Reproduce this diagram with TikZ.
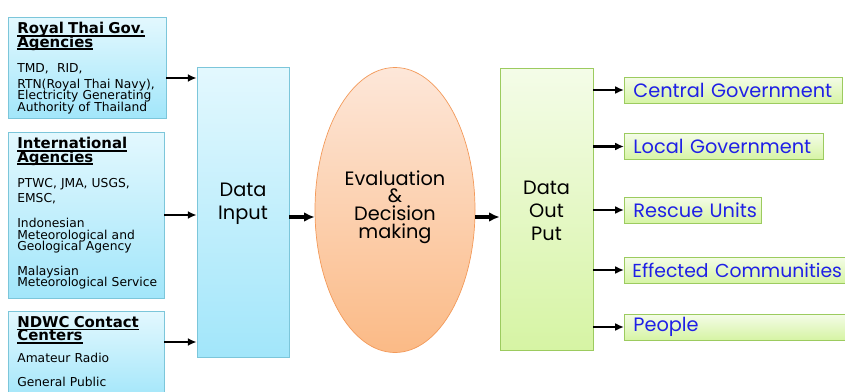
\documentclass[tikz,border=0pt]{standalone}
\usepackage{fontspec}
\usepackage{xcolor}
\setmainfont{DejaVu Sans}
\newfontfamily\gothic{Poppins}
\usetikzlibrary{arrows.meta}
\usetikzlibrary{shapes.geometric,positioning}

\definecolor{cyantop}{HTML}{E3F8FE}
\definecolor{cyanbot}{HTML}{A2E6FA}
\definecolor{cyanline}{HTML}{7CC6DA}
\definecolor{orangetop}{HTML}{FDE7D9}
\definecolor{orangebot}{HTML}{FBBA86}
\definecolor{orangeline}{HTML}{F39A5A}
\definecolor{greentop}{HTML}{F4FCE8}
\definecolor{greenbot}{HTML}{D6F4A4}
\definecolor{greenline}{HTML}{9CCB5F}
\definecolor{blueink}{HTML}{2020E6}

\newcommand\bodyfont{\fontsize{7}{6.4}\selectfont\lineskiplimit=-10pt\parskip=0pt}
\newcommand\headfont{\bfseries\fontsize{8.5}{7.6}\selectfont}
\newcommand\bigfont{\gothic\fontsize{11}{13}\selectfont}
\newcommand\evalfont{\gothic\fontsize{11}{10}\selectfont\lineskiplimit=-10pt}
\newcommand\hul[1]{\leavevmode\setbox0\hbox{#1}\rlap{\rule[-1.7pt]{\wd0}{1pt}}\box0}

\begin{document}
\begin{tikzpicture}[x=0.02cm,y=-0.02cm]
  \tikzset{srcbox/.style = {draw=cyanline, top color=cyantop, bottom color=cyanbot, inner sep=0pt}}
  \tikzset{srctext/.style = {anchor=north west, inner sep=0pt, text width=148*0.02cm, align=left, font=\bodyfont}}
  \tikzset{stage/.style = {draw=cyanline, top color=cyantop, bottom color=cyanbot, inner sep=0pt}}
  \tikzset{greenstage/.style = {draw=greenline, top color=greentop, bottom color=greenbot, inner sep=0pt}}
  \tikzset{evalnode/.style = {ellipse, draw=orangeline, top color=orangetop, bottom color=orangebot, inner sep=0pt}}
  \tikzset{biglabel/.style = {align=center, inner sep=0pt, font=\bigfont}}
  \tikzset{outbox/.style = {anchor=west, draw=greenline, top color=greentop, bottom color=greenbot, inner xsep=9*0.02cm, inner ysep=0pt, minimum height=26*0.02cm, align=left, text=blueink, font=\bigfont}}
  \tikzset{%
  headtip/.tip={Latex[length=5pt,width=4.5pt]},
  bighead/.tip={Latex[length=6pt,width=5.5pt]},
}
  \tikzset{edge/.style = {-headtip, line width=1.2pt}}
  \tikzset{bigedge/.style = {-bighead, line width=1.8pt}}

  \useasboundingbox (0,0) rectangle (845,392);
  \clip (0,0) rectangle (845,392);

  % sources
  \node[srcbox, minimum width=158*0.02cm, minimum height=101*0.02cm] (in1) at (87,67.5) {};
  \node[srcbox, minimum width=156*0.02cm, minimum height=166*0.02cm] (in2) at (86,215) {};
  \node[srcbox, minimum width=156*0.02cm, minimum height=89*0.02cm] (in3) at (86,355.5) {};

  \node[srctext] (in1txt) at (17,22) {%
    {\headfont\hul{Royal Thai Gov.}\\\hul{Agencies}\par}
    \vspace{8.1pt}TMD,\ \ RID,\par
    \vspace{2.7pt}RTN(Royal Thai Navy),\\Electricity Generating\\Authority of Thailand};
  \node[srctext] (in2txt) at (17,137) {%
    {\headfont\hul{International}\\\hul{Agencies}\par}
    \vspace{8.1pt}PTWC, JMA, USGS,\\[2.1pt]EMSC,\par
    \vspace{8pt}Indonesian\\Meteorological and\\Geological Agency\par
    \vspace{8pt}Malaysian\\Meteorological Service};
  \node[srctext] (in3txt) at (17,316) {%
    {\headfont\hul{NDWC Contact}\\\hul{Centers}\par}
    \vspace{6.1pt}Amateur Radio\par
    \vspace{7.2pt}General Public};

  % stages
  \node[stage, minimum width=92*0.02cm, minimum height=290*0.02cm] (datain) at (243,212) {};
  \node[biglabel] (datainlbl) at (243,204) {Data\\Input};
  \node[evalnode, minimum width=160*0.02cm, minimum height=285*0.02cm] (evaldec) at (395,210) {};
  \node[biglabel, font=\evalfont] (evallbl) at (395,207) {Evaluation\\\&\\Decision\\making};
  \node[greenstage, minimum width=93*0.02cm, minimum height=282*0.02cm] (dataout) at (546.5,209) {};
  \node[biglabel] (dataoutlbl) at (546.5,211) {Data\\Out\\Put};

  % receivers
  \node[outbox, text width=200*0.02cm] (central) at (624,90) {Central Government};
  \node[outbox, text width=181*0.02cm] (local) at (624,146.5) {Local Government};
  \node[outbox, text width=119*0.02cm] (rescue) at (624,210) {\rlap{Rescue Units}};
  \node[outbox, text width=240*0.02cm, inner xsep=8*0.02cm] (effected) at (624,270) {\fontsize{10.7}{13}\selectfont Effected Communities};
  \node[outbox, text width=240*0.02cm] (people) at (624,327) {People};

  \foreach \from/\y in {in1/78, in2/215, in3/342}
    \draw[edge] (\from.east |- 0,\y) -- (datain.west |- 0,\y);

  \foreach \from/\to in {datain/evaldec, evaldec/dataout}
    \draw[bigedge] (\from.east |- 0,217) -- (\to.west |- 0,217);

  \foreach \to in {central, local, rescue, effected, people}
    \draw[edge] (dataout.east |- \to.west) -- (\to.west);

\end{tikzpicture}
\end{document}
